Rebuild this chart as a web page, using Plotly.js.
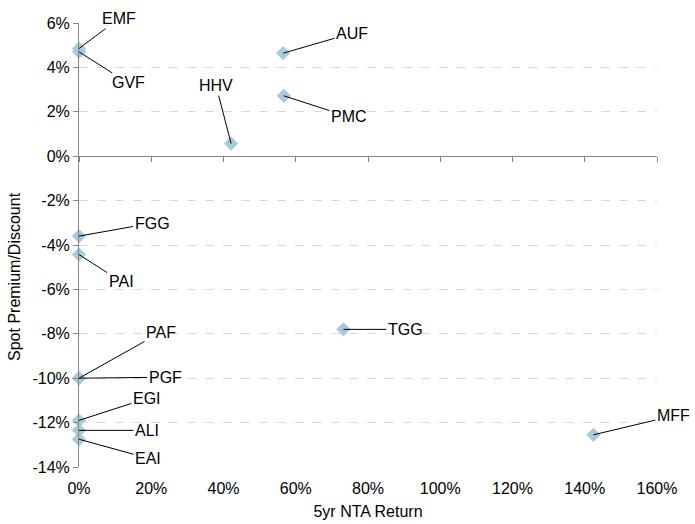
<!DOCTYPE html>
<html>
<head>
<meta charset="utf-8">
<script src="https://cdn.plot.ly/plotly-3.0.1.min.js"></script>
<style>html,body{margin:0;padding:0;background:#fff;}#chart{width:695px;height:524px;}</style>
</head>
<body>
<div id="chart"></div>
<script>
// Data (fractions)
const funds = ["EMF","GVF","AUF","PMC","HHV","FGG","PAI","PAF","PGF","EGI","ALI","EAI","TGG","MFF"];
const ntaReturn = [0.0, 0.0, 0.565, 0.567, 0.421, 0.0, 0.0, 0.0, 0.0, 0.0, 0.0, 0.0, 0.732, 1.424];
const premium = [0.0485, 0.047, 0.0464, 0.0272, 0.0057, -0.036, -0.0443, -0.100, -0.100, -0.119, -0.1235, -0.1275, -0.078, -0.1255];
// label offsets (pixels) for leader lines
const labelDx = [40, 49, 69, 65, -15, 73, 42, 82, 86, 68, 68, 69, 62, 80];
const labelDy = [-30, 31, -20, 21, -58, -13, 27, -46, -1, -22, 0, 19, 0, -19];

const yTickVals = [-0.14,-0.12,-0.10,-0.08,-0.06,-0.04,-0.02,0,0.02,0.04,0.06];
const yTickText = ["-14%","-12%","-10%","-8%","-6%","-4%","-2%","0%","2%","4%","6%"];
const xTickVals = [0,0.2,0.4,0.6,0.8,1.0,1.2,1.4,1.6];
const xTickText = ["0%","20%","40%","60%","80%","100%","120%","140%","160%"];

const font = {family: "Liberation Sans, Arial, sans-serif", size: 16, color: "#000"};

const trace = {
  x: ntaReturn, y: premium, text: funds,
  type: "scatter", mode: "markers", cliponaxis: false,
  marker: {symbol: "diamond", size: 11, color: "#a8cbda"},
  hoverinfo: "text+x+y", showlegend: false
};

const annotations = funds.map((f, i) => ({
  x: ntaReturn[i], y: premium[i], xref: "x", yref: "y",
  text: f, showarrow: true, arrowhead: 0, arrowwidth: 1, arrowcolor: "#000",
  ax: labelDx[i], ay: labelDy[i], standoff: 0, startstandoff: 0,
  font: font
}));
annotations.push({
  text: "Spot Premium/Discount", textangle: -90, showarrow: false,
  xref: "paper", yref: "paper", x: -0.1107, y: 0.428,
  xanchor: "center", yanchor: "middle", font: font
});

const layout = {
  width: 695, height: 524,
  margin: {l: 79, r: 38, t: 22.5, b: 56.7, pad: 0},
  paper_bgcolor: "#fff", plot_bgcolor: "#fff",
  font: font,
  xaxis: {
    range: [0, 1.6], tickvals: xTickVals, ticktext: xTickText,
    showgrid: false, zeroline: false, showline: false, ticks: "",
    tickfont: font, ticklabelstandoff: 10,
    title: {text: "5yr NTA Return", font: font, standoff: 9}
  },
  xaxis2: {
    range: [0, 1.6], tickvals: xTickVals, showticklabels: false,
    overlaying: "x", anchor: "free", position: 0.7,
    showgrid: false, zeroline: false, showline: true, linecolor: "#868686", linewidth: 1,
    ticks: "outside", ticklen: 5, tickcolor: "#868686", tickwidth: 1
  },
  yaxis: {
    range: [-0.14, 0.06], tickvals: yTickVals, ticktext: yTickText,
    showgrid: true, gridcolor: "#d9d9d9", griddash: "dash", gridwidth: 1,
    zeroline: false, showline: true, linecolor: "#868686", linewidth: 1,
    ticks: "outside", ticklen: 5, tickcolor: "#868686",
    tickfont: font
  },
  annotations: annotations
};

const trace2 = {x: [], y: [], xaxis: "x2", yaxis: "y", type: "scatter", showlegend: false, hoverinfo: "skip"};

Plotly.newPlot("chart", [trace2, trace], layout, {displayModeBar: false, staticPlot: true});
</script>
</body>
</html>
